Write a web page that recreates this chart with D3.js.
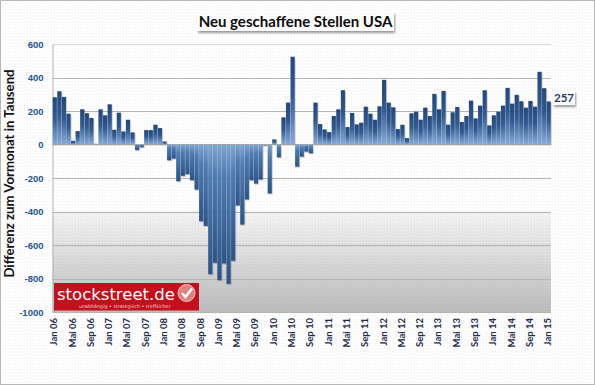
<!DOCTYPE html>
<html>
<head>
<meta charset="utf-8">
<script src="https://d3js.org/d3.v7.min.js"></script>
<style>
  html, body { margin: 0; padding: 0; background: #fff; }
  svg { display: block; }
</style>
</head>
<body>
<div id="container"></div>
<script>
const monthNames = ["Jan", "Feb", "Mrz", "Apr", "Mai", "Jun", "Jul", "Aug", "Sep", "Okt", "Nov", "Dez"];
const years = ["06", "07", "08", "09", "10", "11", "12", "13", "14", "15"];
const values = [
  282, 318, 284, 184, 22, 80, 210, 187, 158, 4, 210, 174,
  240, 88, 190, 78, 148, 72, -33, -16, 86, 86, 118, 98,
  18, -94, -84, -219, -187, -177, -213, -269, -458, -486, -774, -706,
  -810, -710, -832, -694, -364, -478, -328, -213, -233, -209, -6, -292,
  30, -76, 162, 250, 524, -132, -72, -42, -52, 250, 122, 90,
  74, 170, 210, 324, 104, 188, 120, 130, 226, 184, 148, 228,
  386, 250, 222, 92, 118, 38, 186, 196, 148, 220, 170, 302,
  210, 320, 118, 192, 224, 134, 170, 262, 156, 232, 324, 114,
  174, 196, 232, 338, 244, 296, 258, 220, 260, 226, 434, 336,
  257
];
const yTicks = [-1000, -800, -600, -400, -200, 0, 200, 400, 600];
const months = values.map((v, i) => monthNames[i % 12] + " " + years[Math.floor(i / 12)]);
const lastLabel = "257";

const width = 595;
const height = 385;
const plot = { left: 52.5, right: 551, top: 44, bottom: 312 };

const svg = d3.select("#container").append("svg")
  .attr("width", width)
  .attr("height", height);
const defs = svg.append("defs");

const addGradient = (id, stops) => {
  const g = defs.append("linearGradient").attr("id", id)
    .attr("x1", 0).attr("x2", 0).attr("y1", 0).attr("y2", 1);
  stops.forEach(s => g.append("stop").attr("offset", s[0]).attr("stop-color", s[1]));
};
addGradient("barUp", [[0, "#23487c"], [0.45, "#2f5a92"], [1, "#86abd8"]]);
addGradient("barDown", [[0, "#7ea5d4"], [0.25, "#4d7cb2"], [1, "#2a5488"]]);
addGradient("plotBg", [[0, "#ffffff"], [0.62, "#ffffff"], [0.63, "#f4f4f4"], [0.78, "#dedede"], [1, "#bcbcbc"]]);

// the reference has a fine dither all over the picture
const dither = defs.append("pattern").attr("id", "dither")
  .attr("width", 3).attr("height", 3).attr("patternUnits", "userSpaceOnUse");
dither.append("rect").attr("x", 0).attr("y", 0).attr("width", 1).attr("height", 1).attr("fill", "#000").attr("opacity", 0.05);
dither.append("rect").attr("x", 2).attr("y", 1).attr("width", 1).attr("height", 1).attr("fill", "#000").attr("opacity", 0.035);

const shadow = defs.append("filter").attr("id", "shadow")
  .attr("x", "-10%").attr("y", "-30%").attr("width", "125%").attr("height", "170%");
shadow.append("feDropShadow").attr("dx", 1).attr("dy", 2).attr("stdDeviation", 1.2)
  .attr("flood-color", "#777").attr("flood-opacity", 0.75);
const barShadow = defs.append("filter").attr("id", "barShadow")
  .attr("x", "-5%").attr("y", "-5%").attr("width", "110%").attr("height", "110%");
barShadow.append("feDropShadow").attr("dx", 0.6).attr("dy", 0.8).attr("stdDeviation", 0.6)
  .attr("flood-color", "#555").attr("flood-opacity", 0.45);

// page background + frame
svg.append("rect")
  .attr("x", 0.5).attr("y", 0.5)
  .attr("width", width - 1).attr("height", height - 1)
  .attr("fill", "#fff")
  .attr("stroke", "#b5b9b5");

const x = d3.scaleBand().domain(months).range([plot.left, plot.right]).paddingInner(0.1).paddingOuter(0.05);
const y = d3.scaleLinear().domain([-1000, 600]).range([plot.bottom, plot.top]);

svg.append("rect")
  .attr("x", plot.left).attr("y", plot.top)
  .attr("width", plot.right - plot.left).attr("height", plot.bottom - plot.top)
  .attr("fill", "url(#plotBg)");
svg.append("rect")
  .attr("x", 1).attr("y", 1)
  .attr("width", width - 2).attr("height", height - 2)
  .attr("fill", "url(#dither)");

// grid lines
svg.append("g").selectAll("line")
  .data(yTicks.filter(d => d !== 0))
  .join("line")
  .attr("x1", plot.left).attr("x2", plot.right)
  .attr("y1", d => Math.round(y(d)) + 0.5).attr("y2", d => Math.round(y(d)) + 0.5)
  .attr("stroke", d => d === 600 ? "#d8dad6" : "#b3b6ae")
  .attr("stroke-width", 1);

// y axis
const yAxis = svg.append("g")
  .attr("transform", `translate(${plot.left},0)`)
  .call(d3.axisLeft(y).tickValues(yTicks).tickFormat(d => String(d)).tickSize(0).tickPadding(9));
yAxis.select(".domain").attr("stroke", "#b3b6ae");
yAxis.selectAll("text")
  .attr("font-family", "'Liberation Sans', Arial, sans-serif")
  .attr("font-size", 9.5)
  .attr("font-weight", "bold")
  .attr("fill", "#23568f");

// bars
svg.append("g").attr("filter", "url(#barShadow)").selectAll("rect")
  .data(values)
  .join("rect")
  .attr("x", (d, i) => x(months[i]))
  .attr("width", x.bandwidth())
  .attr("y", d => y(Math.max(d, 0)))
  .attr("height", d => Math.abs(y(d) - y(0)))
  .attr("fill", d => d >= 0 ? "url(#barUp)" : "url(#barDown)");

// zero line
svg.append("line")
  .attr("x1", plot.left).attr("x2", plot.right)
  .attr("y1", y(0)).attr("y2", y(0))
  .attr("stroke", "#9a9d98").attr("stroke-width", 0.8);

// x axis, every fourth month
const xAxis = svg.append("g")
  .attr("transform", `translate(0,${plot.bottom})`)
  .call(d3.axisBottom(x).tickValues(months.filter((d, i) => i % 4 === 0)).tickSize(0));
xAxis.select(".domain").remove();
xAxis.selectAll("text")
  .attr("font-family", "Lato, sans-serif")
  .attr("font-size", 9.5)
  .attr("font-weight", "bold")
  .attr("fill", "#1d2b4a")
  .attr("text-anchor", "end")
  .attr("dominant-baseline", "middle")
  .attr("dy", 0)
  .attr("y", 0)
  .attr("transform", "translate(0,6) rotate(-90)");

// y axis title
svg.append("text")
  .attr("transform", "translate(11,173.5) rotate(-90)")
  .attr("text-anchor", "middle")
  .attr("dominant-baseline", "middle")
  .attr("font-family", "Lato, sans-serif")
  .attr("font-weight", "bold")
  .attr("font-size", 13.2)
  .attr("fill", "#111")
  .text("Differenz zum Vormonat in Tausend");

// title box
svg.append("rect")
  .attr("x", 197).attr("y", 12).attr("width", 197).attr("height", 19)
  .attr("fill", "#fdfdfd").attr("filter", "url(#shadow)");
svg.append("text")
  .attr("x", 295.5).attr("y", 27)
  .attr("text-anchor", "middle")
  .attr("font-family", "Lato, sans-serif")
  .attr("font-weight", "bold")
  .attr("font-size", 15)
  .attr("fill", "#0c0c0c")
  .text("Neu geschaffene Stellen USA");

// label for last value
svg.append("rect")
  .attr("x", 553).attr("y", 91).attr("width", 22).attr("height", 14)
  .attr("fill", "#fdfdfd").attr("filter", "url(#shadow)");
svg.append("text")
  .attr("x", 564).attr("y", 101.5)
  .attr("text-anchor", "middle")
  .attr("font-family", "Lato, sans-serif")
  .attr("font-weight", "bold")
  .attr("font-size", 11.5)
  .attr("fill", "#1d3a66")
  .text(lastLabel);

// logo
const logo = svg.append("g").attr("transform", "translate(54,283)");
logo.append("rect").attr("width", 145).attr("height", 27.5).attr("fill", "#c4101c");
logo.append("text")
  .attr("x", 3).attr("y", 17)
  .attr("font-family", "'DejaVu Sans', sans-serif")
  .attr("font-size", 16.5)
  .attr("fill", "#fff")
  .text("stockstreet.de");
logo.append("text")
  .attr("x", 25).attr("y", 25)
  .attr("font-family", "'DejaVu Sans', sans-serif")
  .attr("font-size", 4.8)
  .attr("fill", "#f3d0d0")
  .text("unabhängig • strategisch • treffsicher");
logo.append("circle").attr("cx", 132.5).attr("cy", 10).attr("r", 8.5).attr("fill", "#e08080").attr("stroke", "#e8c8c8");
logo.append("path")
  .attr("d", "M128 10 L131.5 14 L138 5.5")
  .attr("fill", "none").attr("stroke", "#fff").attr("stroke-width", 2.4);
</script>
</body>
</html>
